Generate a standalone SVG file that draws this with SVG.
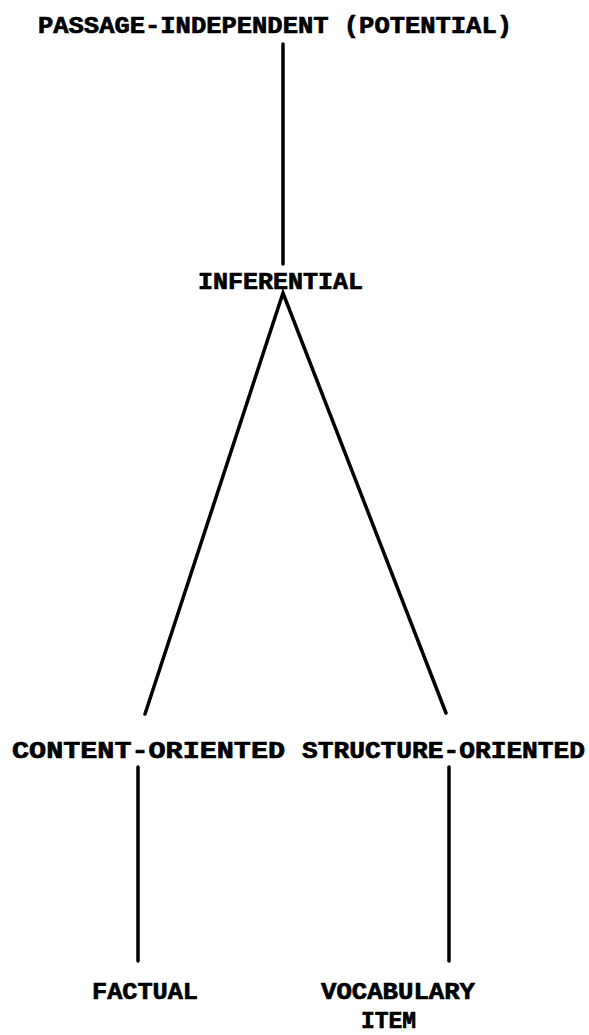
<svg xmlns="http://www.w3.org/2000/svg" width="589" height="1035" viewBox="0 0 589 1035">
<style>
.t{font-family:"Liberation Mono","DejaVu Sans Mono",monospace;font-weight:bold;font-size:24px;fill:#000;stroke:#000;stroke-width:0.7}
.c{stroke:#000;stroke-width:3.5;fill:none;stroke-linecap:round}
</style>
<rect width="589" height="1035" fill="#fff"/>
<g id="connectors">
<line class="c" x1="283" y1="44" x2="283" y2="264"/>
<polyline class="c" points="145,714 283,293 446,713"/>
<line class="c" x1="138" y1="767" x2="138" y2="961"/>
<line class="c" x1="449" y1="767" x2="449" y2="961"/>
</g>
<g id="n-passage"><text class="t" x="38" y="33" textLength="474" lengthAdjust="spacingAndGlyphs">PASSAGE-INDEPENDENT (POTENTIAL)</text></g>
<g id="n-inferential"><text class="t" x="198" y="289" textLength="165" lengthAdjust="spacingAndGlyphs">INFERENTIAL</text></g>
<g id="n-content"><text class="t" x="12" y="758" textLength="273" lengthAdjust="spacingAndGlyphs">CONTENT-ORIENTED</text></g>
<g id="n-structure"><text class="t" x="302" y="758" textLength="283" lengthAdjust="spacingAndGlyphs">STRUCTURE-ORIENTED</text></g>
<g id="n-factual"><text class="t" x="92" y="999" textLength="106" lengthAdjust="spacingAndGlyphs">FACTUAL</text></g>
<g id="n-vocab"><text class="t" x="321" y="999" textLength="154" lengthAdjust="spacingAndGlyphs">VOCABULARY</text><text class="t" x="361" y="1028" textLength="55" lengthAdjust="spacingAndGlyphs">ITEM</text></g>
</svg>
